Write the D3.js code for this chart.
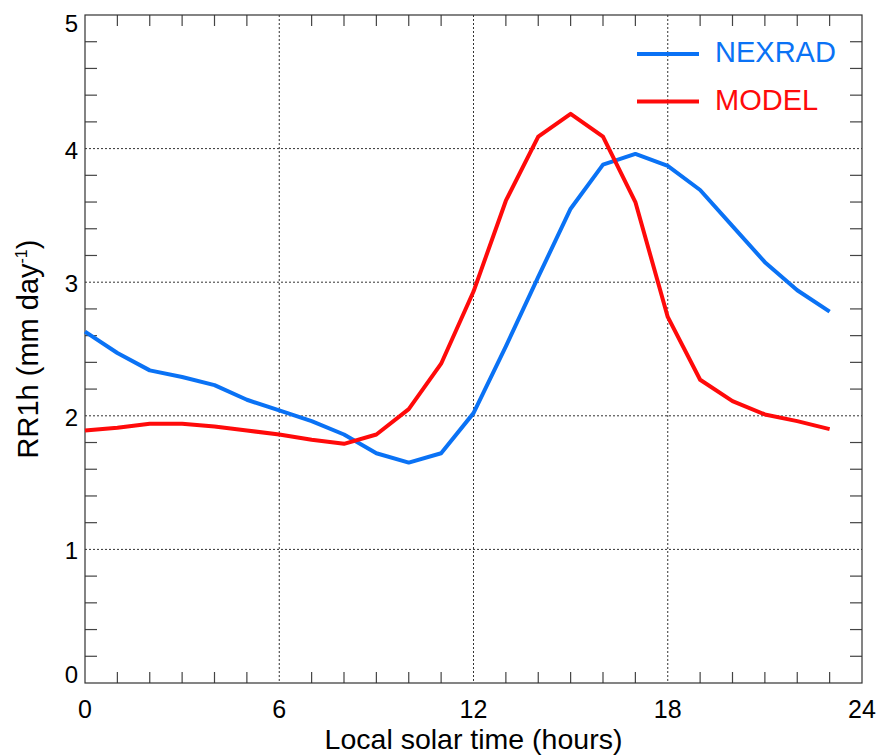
<!DOCTYPE html>
<html>
<head>
<meta charset="utf-8">
<script src="https://cdn.jsdelivr.net/npm/d3@7"></script>
<style>
  body { margin: 0; background: #fff; }
  text { font-family: "Liberation Sans", Arial, Helvetica, sans-serif; }
</style>
</head>
<body>
<div id="chart"></div>
<script>
(function () {
    const width = 879;
    const height = 755;
    const margin = { top: 15, right: 17, bottom: 72, left: 85 };

    // Data: hourly diurnal cycle of precipitation rate
    const hours = d3.range(0, 24);
    const nexrad = [2.63, 2.47, 2.34, 2.29, 2.23, 2.12, 2.04, 1.96, 1.86, 1.72, 1.65, 1.72,
                    2.02, 2.52, 3.04, 3.55, 3.88, 3.96, 3.87, 3.69, 3.42, 3.15, 2.94, 2.78];
    const model  = [1.89, 1.91, 1.94, 1.94, 1.92, 1.89, 1.86, 1.82, 1.79, 1.86, 2.05, 2.39,
                    2.93, 3.61, 4.09, 4.26, 4.09, 3.60, 2.74, 2.27, 2.11, 2.01, 1.96, 1.90];
    const seriesNames = ["NEXRAD", "MODEL"];
    const seriesColors = ["#0a72f5", "#ff0a0a"];
    const xMajor = [0, 6, 12, 18, 24];
    const yMajor = [0, 1, 2, 3, 4, 5];

    const svg = d3.select("#chart")
        .append("svg")
        .attr("width", width)
        .attr("height", height);

    const x = d3.scaleLinear().domain([0, 24]).range([margin.left, width - margin.right]);
    const y = d3.scaleLinear().domain([0, 5]).range([height - margin.bottom, margin.top]);

    const x0 = x.range()[0], x1 = x.range()[1];
    const y0 = y.range()[0], y1 = y.range()[1];

    // Dotted grid lines at major ticks
    const grid = svg.append("g")
        .attr("stroke", "#333")
        .attr("stroke-width", 1)
        .attr("stroke-dasharray", "2,2");
    grid.selectAll(".vg")
        .data(xMajor.slice(1, -1))
        .enter().append("line")
        .attr("x1", d => x(d)).attr("x2", d => x(d))
        .attr("y1", y1).attr("y2", y0);
    grid.selectAll(".hg")
        .data(yMajor.slice(1, -1))
        .enter().append("line")
        .attr("x1", x0).attr("x2", x1)
        .attr("y1", d => y(d)).attr("y2", d => y(d));

    // Minor ticks
    const ticks = svg.append("g").attr("stroke", "#444").attr("stroke-width", 1.2);
    const xMinor = d3.range(1, 24).filter(h => h % 6 !== 0);
    ticks.selectAll(".xb").data(xMinor).enter().append("line")
        .attr("x1", d => x(d)).attr("x2", d => x(d))
        .attr("y1", y0).attr("y2", y0 - 11);
    ticks.selectAll(".xt").data(xMinor).enter().append("line")
        .attr("x1", d => x(d)).attr("x2", d => x(d))
        .attr("y1", y1).attr("y2", y1 + 11);
    const yMinor = d3.range(1, 25).map(i => i * 0.2).filter(v => Math.abs(v - Math.round(v)) > 0.01);
    ticks.selectAll(".yl").data(yMinor).enter().append("line")
        .attr("x1", x0).attr("x2", x0 + 12)
        .attr("y1", d => y(d)).attr("y2", d => y(d));
    ticks.selectAll(".yr").data(yMinor).enter().append("line")
        .attr("x1", x1).attr("x2", x1 - 12)
        .attr("y1", d => y(d)).attr("y2", d => y(d));

    // Frame
    svg.append("rect")
        .attr("x", x0).attr("y", y1)
        .attr("width", x1 - x0).attr("height", y0 - y1)
        .attr("fill", "none")
        .attr("stroke", "#333")
        .attr("stroke-width", 1.2);

    // Tick labels
    svg.append("g").selectAll("text")
        .data(xMajor)
        .enter().append("text")
        .attr("x", d => x(d))
        .attr("y", y0 + 35)
        .attr("text-anchor", "middle")
        .style("font-size", "25px")
        .text(d => d);

    svg.append("g").selectAll("text")
        .data(yMajor)
        .enter().append("text")
        .attr("x", x0 - 7)
        .attr("y", d => d === 0 ? y(d) : d === 5 ? y(d) + 17 : y(d) + 10)
        .attr("text-anchor", "end")
        .style("font-size", "24px")
        .text(d => d);

    // Axis titles
    svg.append("text")
        .attr("x", (x0 + x1) / 2)
        .attr("y", 748.5)
        .attr("text-anchor", "middle")
        .style("font-size", "28.5px")
        .text("Local solar time (hours)");

    const yt = svg.append("text")
        .attr("transform", `translate(38,${(y0 + y1) / 2}) rotate(-90)`)
        .attr("text-anchor", "middle")
        .style("font-size", "29px");
    yt.append("tspan").text("RR1h (mm day");
    yt.append("tspan").attr("dy", -11).style("font-size", "16px").text("-1");
    yt.append("tspan").attr("dy", 11).text(")");

    // Lines
    const line = d3.line()
        .x((d, i) => x(hours[i]))
        .y(d => y(d));

    [nexrad, model].forEach((vals, k) => {
        svg.append("path")
            .datum(vals)
            .attr("fill", "none")
            .attr("stroke", seriesColors[k])
            .attr("stroke-width", 4)
            .attr("stroke-linejoin", "round")
            .attr("d", line);
    });

    // Legend
    const legend = svg.append("g");
    seriesNames.forEach((name, k) => {
        const ly = 54 + k * 47.5;
        legend.append("line")
            .attr("x1", 637).attr("x2", 699)
            .attr("y1", ly).attr("y2", ly)
            .attr("stroke", seriesColors[k])
            .attr("stroke-width", 4);
        legend.append("text")
            .attr("x", 715)
            .attr("y", ly + 8)
            .style("font-size", "29px")
            .attr("fill", seriesColors[k])
            .text(name);
    });
})();
</script>
</body>
</html>
